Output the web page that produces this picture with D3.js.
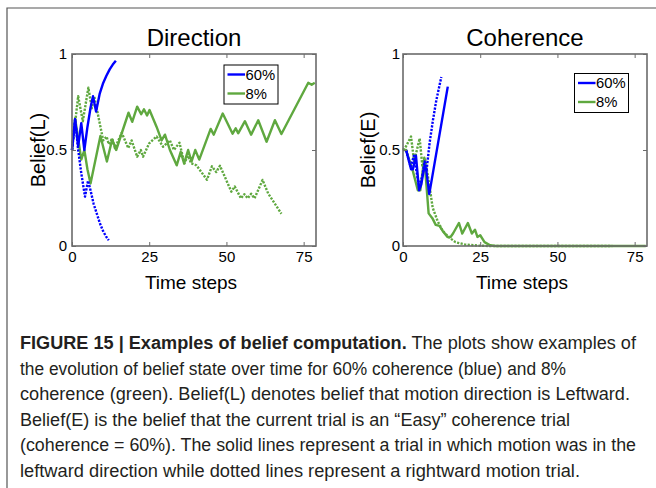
<!DOCTYPE html>
<html>
<head>
<meta charset="utf-8">
<script src="https://d3js.org/d3.v7.min.js"></script>
<style>
  body { margin: 0; background: #fff; }
  svg { display: block; font-family: "Liberation Sans", Arial, sans-serif; }
</style>
</head>
<body>
<div id="chart"></div>
<script>
// ticks + legend
const xTicks = [0, 25, 50, 75];
const yTicks = [0, 0.5, 1];
const yTickLabels = ['0', '0.5', '1'];
const legendNames = ['60%', '8%'];
const panelTitles = ['Direction', 'Coherence'];
const yLabels = ['Belief(L)', 'Belief(E)'];

// Direction panel, [time step, belief]
const dirBlueSolid = [[0,.5],[1,.66],[2,.52],[3,.64],[4,.5],[5,.62],[6,.72],[6.8,.78],[7.8,.70],[9,.795],[10,.845],[11.1,.885],[12.2,.92],[13.2,.945],[14.2,.965]];
const dirBlueDotted = [[0,.5],[1,.66],[2,.5],[3,.38],[4.2,.257],[5.2,.34],[6,.29],[7,.22],[8,.17],[9,.12],[10,.08],[11,.05],[11.9,.03]];
const dirGreenSolid = [[0,.5],[1,.665],[2,.56],[3,.45],[4,.5],[5,.4],[6,.326],[9.2,.573],[11.3,.44],[13,.555],[14.3,.5],[18.3,.694],[19.5,.647],[21.1,.726],[22.4,.686],[23.3,.712],[24.3,.68],[25.1,.708],[27.4,.62],[29,.55],[30.1,.58],[31.7,.5],[33.9,.42],[35.2,.49],[36.3,.43],[37.6,.5],[38.7,.44],[39.9,.5],[41.2,.45],[44.9,.61],[45.9,.58],[48.8,.69],[52,.585],[53,.613],[53.8,.587],[56,.65],[58,.58],[60.3,.655],[63,.543],[65.7,.655],[67.8,.583],[76.5,.85],[77.6,.84],[78.6,.85]];
const dirGreenDotted = [[0,.5],[2,.78],[3.5,.65],[5.3,.825],[6.4,.717],[7.2,.78],[10.1,.55],[11.2,.57],[11.9,.53],[13,.56],[13.9,.51],[16.1,.59],[18.2,.51],[19.3,.55],[21.1,.465],[22.3,.5],[23,.465],[25,.535],[27.4,.57],[29.5,.517],[31.7,.55],[33,.5],[34.8,.538],[36.4,.43],[37.5,.47],[38.6,.43],[40.3,.42],[43.7,.345],[45.3,.415],[46.7,.385],[47.9,.418],[51.6,.283],[52.7,.31],[54.7,.248],[55.8,.27],[56.9,.248],[58,.272],[59.1,.248],[61.7,.344],[63.5,.274],[67.8,.168]];

// Coherence panel
const cohBlueSolid = [[1,.5],[2.6,.4],[3.2,.4],[4.2,.47],[5.2,.29],[5.9,.32],[7,.42],[7.5,.4],[8.5,.27],[14.5,.83]];
const cohBlueDotted = [[1,.5],[2.5,.41],[3.5,.47],[5.2,.31],[6.2,.36],[7,.44],[7.6,.39],[8.6,.535],[9.7,.656],[10.8,.76],[12.4,.88]];
const cohGreenSolid = [[0,.5],[1,.5],[3.2,.39],[4.8,.29],[5.6,.29],[6.9,.46],[8.3,.17],[9.5,.145],[10.6,.11],[11.8,.105],[12.8,.08],[14.4,.047],[15.4,.047],[16.2,.065],[18.1,.12],[19.2,.065],[21,.12],[22.3,.065],[23.3,.085],[24.1,.047],[25,.056],[26.4,.02],[28.2,.004],[30,0],[78.6,0]];
const cohGreenDotted = [[0,.5],[1,.52],[2.6,.57],[3.6,.44],[4.5,.5],[5.4,.56],[6.3,.41],[7.2,.45],[8.5,.32],[9.6,.2],[11.2,.13],[12.8,.08],[14.9,.045],[17,.02],[20,.008],[24.5,.002],[28,0],[67.8,0]];

const captionLines = [
  [['FIGURE 15 | Examples of belief computation.', true], [' The plots show examples of', false]],
  [['the evolution of belief state over time for 60% coherence (blue) and 8%', false]],
  [['coherence (green). Belief(L) denotes belief that motion direction is Leftward.', false]],
  [['Belief(E) is the belief that the current trial is an \u201cEasy\u201d coherence trial', false]],
  [['(coherence = 60%). The solid lines represent a trial in which motion was in the', false]],
  [['leftward direction while dotted lines represent a rightward motion trial.', false]]
];
const captionWidths = [616, 546, 610, 550, 616, 560];

const BLUE = '#0000ff';
const GREEN = '#5fa83f';
const AXIS = '#6b6b6b';

const W = 656, H = 488;
const svg = d3.select('#chart').append('svg').attr('width', W).attr('height', H);

// outer figure frame (top + left)
svg.append('path')
  .attr('d', `M7,${H} V8 H${W}`)
  .attr('fill', 'none').attr('stroke', '#555').attr('stroke-width', 1.2);

function drawPanel(opts) {
  const x = d3.scaleLinear().domain([0, 79]).range([opts.left, opts.left + 244]);
  const y = d3.scaleLinear().domain([0, 1]).range([246, 54]);
  const g = svg.append('g');

  const line = d3.line().x(d => x(d[0])).y(d => y(d[1]));

  // series
  const series = [
    [opts.greenDotted, GREEN, true],
    [opts.greenSolid, GREEN, false],
    [opts.blueDotted, BLUE, true],
    [opts.blueSolid, BLUE, false]
  ];
  series.forEach(([data, color, dotted]) => {
    g.append('path')
      .datum(data)
      .attr('d', line)
      .attr('fill', 'none')
      .attr('stroke', color)
      .attr('stroke-width', 2.4)
      .attr('stroke-linejoin', 'round')
      .attr('stroke-dasharray', dotted ? '2.2,1.4' : null);
  });

  // axes, ticks pointing inward like matlab
  const styleAxis = sel => {
    sel.select('.domain').remove();
    sel.selectAll('line').attr('stroke', AXIS).attr('stroke-width', 1);
    sel.selectAll('text').attr('fill', '#000').attr('font-size', 15)
      .attr('font-family', '"Liberation Sans", Arial, sans-serif');
  };
  g.append('g').attr('transform', 'translate(0,246)')
    .call(d3.axisBottom(x).tickValues(xTicks).tickSize(-4).tickPadding(5))
    .call(styleAxis);
  g.append('g').attr('transform', 'translate(0,54)')
    .call(d3.axisTop(x).tickValues(xTicks).tickSize(-4).tickFormat(''))
    .call(styleAxis);
  g.append('g').attr('transform', `translate(${x.range()[0]},0)`)
    .call(d3.axisLeft(y).tickValues(yTicks).tickSize(-4).tickPadding(opts.yPad)
      .tickFormat((d, i) => yTickLabels[i]))
    .call(styleAxis);
  g.append('g').attr('transform', `translate(${x.range()[1]},0)`)
    .call(d3.axisRight(y).tickValues(yTicks).tickSize(-4).tickFormat(''))
    .call(styleAxis);

  g.append('rect')
    .attr('x', x.range()[0]).attr('y', 54)
    .attr('width', x.range()[1] - x.range()[0]).attr('height', 192)
    .attr('fill', 'none').attr('stroke', AXIS).attr('stroke-width', 1.6);

  const mid = (x.range()[0] + x.range()[1]) / 2;
  g.append('text').attr('x', mid).attr('y', 46)
    .attr('text-anchor', 'middle').attr('font-size', 24).text(opts.title);
  g.append('text').attr('x', mid - 3).attr('y', 289)
    .attr('text-anchor', 'middle').attr('font-size', 19).text('Time steps');
  g.append('text')
    .attr('transform', `translate(${opts.ylabX},150) rotate(-90)`)
    .attr('text-anchor', 'middle').attr('font-size', 20).text(opts.ylabel);

  // legend
  const lg = g.append('g').attr('transform', `translate(${opts.legX},${opts.legY})`);
  lg.append('rect').attr('width', 54).attr('height', 39)
    .attr('fill', '#fff').attr('stroke', '#000').attr('stroke-width', 1);
  legendNames.forEach((name, i) => {
    const cy = 9.5 + i * 19;
    lg.append('line').attr('x1', 3.5).attr('x2', 21).attr('y1', cy).attr('y2', cy)
      .attr('stroke', i === 0 ? BLUE : GREEN).attr('stroke-width', 2.4);
    lg.append('text').attr('x', 21.5).attr('y', cy + 5.3)
      .attr('font-size', 14.8).text(name);
  });
}

drawPanel({
  left: 72, title: panelTitles[0], ylabel: yLabels[0], ylabX: 45, yPad: 5,
  legX: 224, legY: 65,
  blueSolid: dirBlueSolid, blueDotted: dirBlueDotted,
  greenSolid: dirGreenSolid, greenDotted: dirGreenDotted
});
drawPanel({
  left: 403, title: panelTitles[1], ylabel: yLabels[1], ylabX: 375, yPad: 3,
  legX: 574.5, legY: 73.5,
  blueSolid: cohBlueSolid, blueDotted: cohBlueDotted,
  greenSolid: cohGreenSolid, greenDotted: cohGreenDotted
});

// caption
const cap = svg.append('g').attr('font-size', 17.5).attr('fill', '#231f20');
captionLines.forEach((parts, i) => {
  const t = cap.append('text')
    .attr('x', 20).attr('y', 349 + i * 25.6)
    .attr('textLength', captionWidths[i])
    .attr('lengthAdjust', 'spacingAndGlyphs');
  parts.forEach(([str, bold]) => {
    t.append('tspan').attr('font-weight', bold ? 700 : 400).text(str);
  });
});
</script>
</body>
</html>
